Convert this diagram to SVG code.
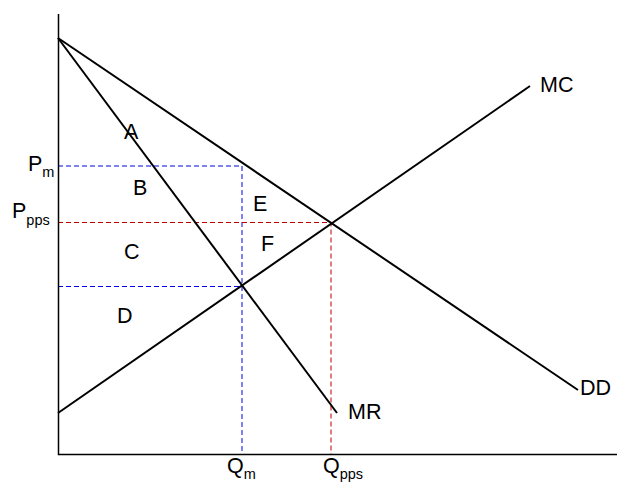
<svg xmlns="http://www.w3.org/2000/svg" width="617" height="483" viewBox="0 0 617 483">
<style>
.ln{stroke:#000;stroke-width:2;fill:none}
.ax{stroke:#000;stroke-width:1.5;fill:none}
.bl{stroke:#0000ee;stroke-width:1;stroke-dasharray:5,3;fill:none}
.rd{stroke:#bb0000;stroke-width:1;stroke-dasharray:5,3;fill:none}
text{font-family:"Liberation Sans",Arial,sans-serif;font-size:21.5px;fill:#000}
.sub{font-size:14.5px}
</style>
<rect width="617" height="483" fill="#fff"/>
<g id="connectors">
<path class="bl" d="M58,166H242V454"/>
<path class="bl" d="M58,286.5H242"/>
<path class="rd" d="M58,222.5H331V454"/>
<line class="ln" x1="58" y1="38" x2="578" y2="390"/>
<line class="ln" x1="58" y1="38" x2="337" y2="413"/>
<line class="ln" x1="58" y1="413" x2="530" y2="86"/>
<path class="ax" d="M58.5,14V454.5H617"/>
</g>
<g id="labels">
<text x="124" y="139">A</text>
<text x="133" y="195">B</text>
<text x="124" y="259">C</text>
<text x="117" y="323">D</text>
<text x="253" y="211">E</text>
<text x="261" y="251">F</text>
<text x="348" y="419">MR</text>
<text x="540" y="92">MC</text>
<text x="580" y="395">DD</text>
<text x="28" y="171">P<tspan class="sub" dy="6">m</tspan></text>
<text x="12" y="218">P<tspan class="sub" dy="7">pps</tspan></text>
<text x="227" y="473">Q<tspan class="sub" dy="6">m</tspan></text>
<text x="323" y="473">Q<tspan class="sub" dy="6">pps</tspan></text>
</g>
</svg>
